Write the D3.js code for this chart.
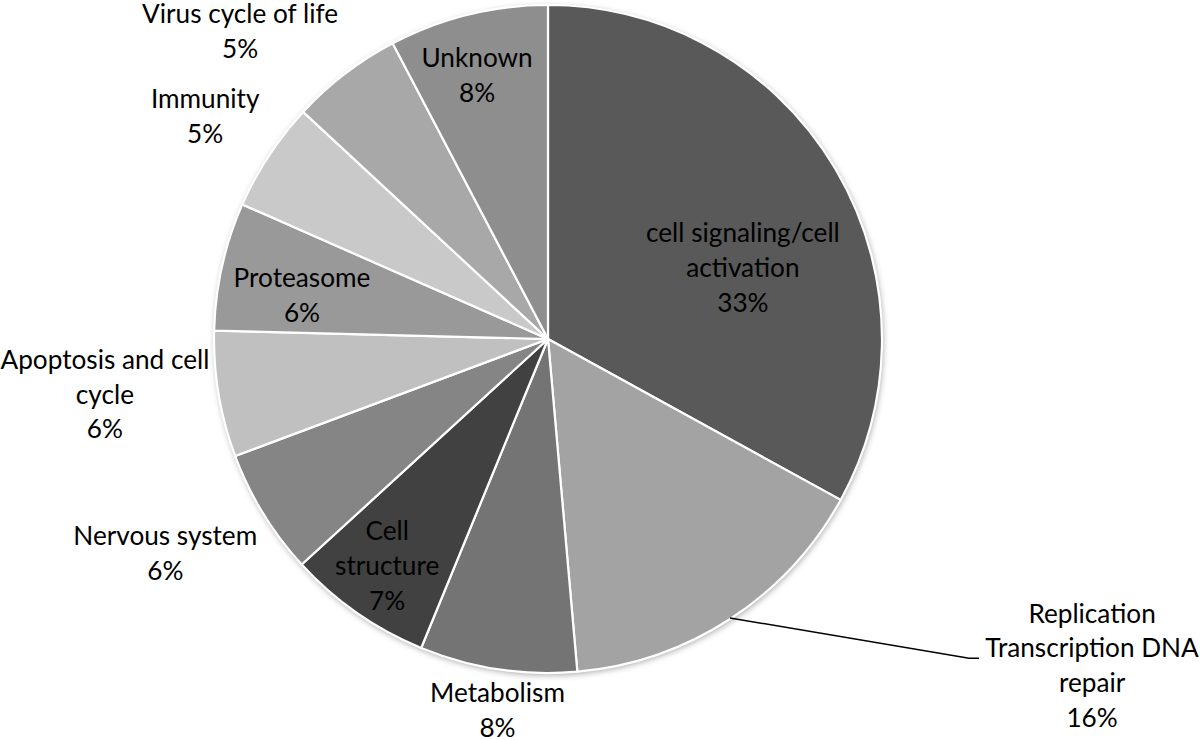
<!DOCTYPE html>
<html>
<head>
<meta charset="utf-8">
<script src="https://cdn.jsdelivr.net/npm/d3@7"></script>
<style>
  body { margin: 0; background: #fff; }
  svg { display: block; }
</style>
</head>
<body>
<div id="chart"></div>
<script>
// categories, clockwise from 12 o'clock
var categories = [
  'cell signaling/cell activation',
  'Replication Transcription DNA repair',
  'Metabolism',
  'Cell structure',
  'Nervous system',
  'Apoptosis and cell cycle',
  'Proteasome',
  'Immunity',
  'Virus cycle of life',
  'Unknown'
];
// shares in percent
var shares = [33.0, 15.6, 7.6, 7.0, 6.1, 6.1, 6.2, 5.3, 5.4, 7.7];
// how each label wraps
var labelLines = [
  ['cell signaling/cell', 'activation'],
  ['Replication', 'Transcription DNA', 'repair'],
  ['Metabolism'],
  ['Cell', 'structure'],
  ['Nervous system'],
  ['Apoptosis and cell', 'cycle'],
  ['Proteasome'],
  ['Immunity'],
  ['Virus cycle of life'],
  ['Unknown']
];
var fills = ['#595959', '#a3a3a3', '#747474', '#414141', '#858585',
             '#c0c0c0', '#999999', '#c9c9c9', '#a8a8a8', '#8e8e8e'];

var WIDTH = 1200, HEIGHT = 740;
var cx = 548, cy = 339, R = 334;
var lineH = 34.7;

// label placement: angle offset from slice middle (deg) and radius factor
var labelPlace = [
  [10.6, 0.621], [-25.9, 1.90], [-0.9, 1.123], [0.4, 0.833], [2.2, 1.314],
  [2.4, 1.337], [-2.6, 0.748], [-0.3, 1.224], [-7.6, 1.303], [-1.2, 0.817]
];

var svg = d3.select('#chart').append('svg')
  .attr('width', WIDTH)
  .attr('height', HEIGHT);

var defs = svg.append('defs');
var f = defs.append('filter').attr('id', 'shadow')
  .attr('x', '-10%').attr('y', '-10%').attr('width', '120%').attr('height', '120%');
f.append('feDropShadow')
  .attr('dx', 1).attr('dy', 2).attr('stdDeviation', 3)
  .attr('flood-color', '#000').attr('flood-opacity', 0.35);

var pie = d3.pie().sort(null).value(function(d) { return d; });
var arcs = pie(shares);
var arc = d3.arc().innerRadius(0).outerRadius(R);

var g = svg.append('g').attr('transform', 'translate(' + cx + ',' + cy + ')');

g.append('circle').attr('r', R).attr('fill', '#fff').attr('filter', 'url(#shadow)');

g.selectAll('path.slice')
  .data(arcs)
  .enter().append('path')
  .attr('class', 'slice')
  .attr('d', arc)
  .attr('fill', function(d, i) { return fills[i]; })
  .attr('stroke', '#fff')
  .attr('stroke-width', 2.2)
  .attr('stroke-linejoin', 'round');

// fit font size so text width resembles the original Calibri labels
var probe = svg.append('text').attr('font-family', 'Lato, sans-serif')
  .attr('font-size', 20).text('Nervous system');
var fs = 20 * 184 / probe.node().getComputedTextLength();
probe.remove();

function polar(angle, r) {
  return [r * Math.sin(angle), -r * Math.cos(angle)];
}

arcs.forEach(function(d, i) {
  var mid = (d.startAngle + d.endAngle) / 2;
  var a = mid + labelPlace[i][0] * Math.PI / 180;
  var p = polar(a, R * labelPlace[i][1]);
  var lines = labelLines[i].concat([Math.round(d.value) + '%']);

  var t = g.append('text')
    .attr('font-family', 'Lato, sans-serif')
    .attr('font-size', fs)
    .attr('fill', '#000')
    .attr('text-anchor', 'middle');
  var y0 = p[1] - (lines.length - 1) * lineH / 2 + 9;
  lines.forEach(function(s, k) {
    t.append('tspan').attr('x', p[0]).attr('y', y0 + k * lineH).text(s);
  });

  // leader line for the label placed outside on the right
  if (i === 1) {
    var s0 = polar(mid, R - 1);
    var bx = p[0] - 123;
    var by = y0 + lineH + 1;
    g.append('path')
      .attr('d', d3.line()([s0, [bx, by], [bx + 10, by]]))
      .attr('fill', 'none')
      .attr('stroke', '#000')
      .attr('stroke-width', 1.5);
  }
});
</script>
</body>
</html>
